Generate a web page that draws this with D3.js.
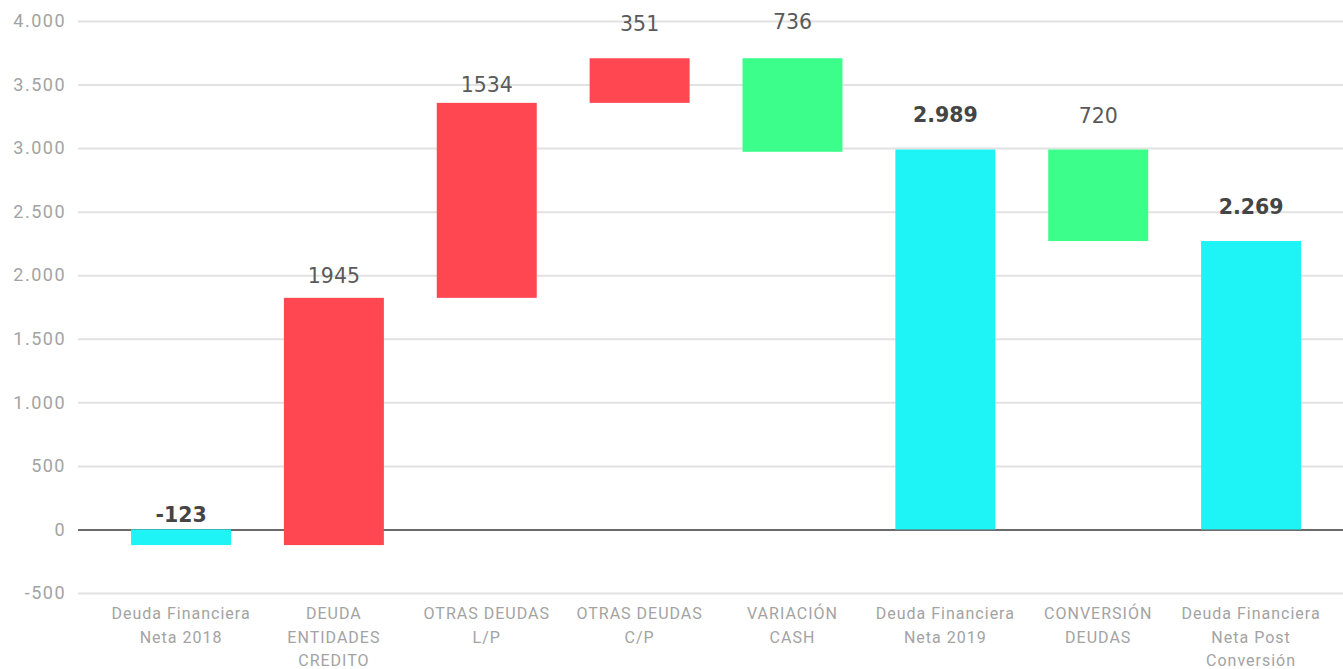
<!DOCTYPE html>
<html>
<head>
<meta charset="utf-8">
<script src="https://cdn.jsdelivr.net/npm/d3@7"></script>
<style>
  html, body { margin: 0; padding: 0; background: #fff; }
  svg { display: block; }
</style>
</head>
<body>
<svg id="chart" width="1343" height="669"></svg>
<script>
// Waterfall: net financial debt 2018 -> 2019 -> post conversion
const categories = [
  "Deuda Financiera Neta 2018",
  "DEUDA ENTIDADES CREDITO",
  "OTRAS DEUDAS L/P",
  "OTRAS DEUDAS C/P",
  "VARIACIÓN CASH",
  "Deuda Financiera Neta 2019",
  "CONVERSIÓN DEUDAS",
  "Deuda Financiera Neta Post Conversión"
];
// label lines for the x axis
const categoryLines = [
  ["Deuda Financiera", "Neta 2018"],
  ["DEUDA", "ENTIDADES", "CREDITO"],
  ["OTRAS DEUDAS", "L/P"],
  ["OTRAS DEUDAS", "C/P"],
  ["VARIACIÓN", "CASH"],
  ["Deuda Financiera", "Neta 2019"],
  ["CONVERSIÓN", "DEUDAS"],
  ["Deuda Financiera", "Neta Post", "Conversión"]
];
// kind: total bars start at zero, changes stack on the running total
const kinds  = ["total", "up", "up", "up", "down", "total", "down", "total"];
const values = [-123, 1945, 1534, 351, 736, 2989, 720, 2269];
const yTicks = [-500, 0, 500, 1000, 1500, 2000, 2500, 3000, 3500, 4000];

// vertical lift of the value labels above each bar (px)
const labelLift = [14, 22, 18, 34, 36, 35, 34, 34];

const colors = { total: "#1ef4f6", up: "#ff4752", down: "#3cff8b" };

const svg = d3.select("#chart");
const W = 1343, left = 78;

const y = d3.scaleLinear().domain([-500, 4000]).range([593, 21]);
const x = d3.scaleBand()
  .domain(categories)
  .range([104.6, 1327.5])
  .paddingInner(0.346)
  .paddingOuter(0.173);

// compute bar extents
let running = 0;
const bars = categories.map((c, i) => {
  const v = values[i];
  let a, b;
  if (kinds[i] === "total") { a = 0; b = v; running = v; }
  else if (kinds[i] === "up") { a = running; b = running + v; running = b; }
  else { a = running; b = running - v; running = b; }
  return { c, i, v, kind: kinds[i], lo: Math.min(a, b), hi: Math.max(a, b) };
});

const fmt = d3.formatLocale({
  decimal: ",", thousands: ".", grouping: [3], currency: ["", "€"], minus: "-"
}).format(",d");

// grid + y axis
const yAxis = d3.axisLeft(y).tickValues(yTicks).tickFormat(fmt)
  .tickSize(-(W - left)).tickPadding(12);
const gy = svg.append("g").attr("transform", `translate(${left},0)`).call(yAxis);
gy.select(".domain").remove();
gy.selectAll(".tick line")
  .attr("stroke", d => d === 0 ? "#6b6b6b" : "#e2e2e2")
  .attr("stroke-width", 2);
gy.selectAll(".tick text")
  .attr("fill", "#a3a3a3")
  .attr("font-family", "Roboto, sans-serif")
  .attr("font-size", 18)
  .attr("letter-spacing", 1.5);

// bars
svg.append("g").selectAll("rect").data(bars).join("rect")
  .attr("x", d => x(d.c))
  .attr("width", x.bandwidth())
  .attr("y", d => y(d.hi))
  .attr("height", d => y(d.lo) - y(d.hi))
  .attr("fill", d => colors[d.kind]);

// value labels
svg.append("g").selectAll("text").data(bars).join("text")
  .attr("x", d => x(d.c) + x.bandwidth() / 2)
  .attr("y", d => y(d.hi) - labelLift[d.i] + 7)
  .attr("text-anchor", "middle")
  .attr("font-family", "'DejaVu Sans', Verdana, sans-serif")
  .attr("font-size", 20.5)
  .attr("font-weight", d => d.kind === "total" ? "bold" : "normal")
  .attr("fill", d => d.kind === "total" ? "#454545" : "#5a5a5a")
  .text(d => d.kind === "total" ? fmt(d.v) : String(d.v));

// category labels
const gx = svg.append("g");
categories.forEach((c, i) => {
  const cx = x(c) + x.bandwidth() / 2;
  const t = gx.append("text")
    .attr("x", cx)
    .attr("y", 619)
    .attr("text-anchor", "middle")
    .attr("font-family", "Roboto, sans-serif")
    .attr("font-size", 16)
    .attr("letter-spacing", 1)
    .attr("fill", "#a3a3a3");
  categoryLines[i].forEach((line, k) => {
    t.append("tspan").attr("x", cx).attr("dy", k === 0 ? 0 : 23.5).text(line);
  });
});
</script>
</body>
</html>
